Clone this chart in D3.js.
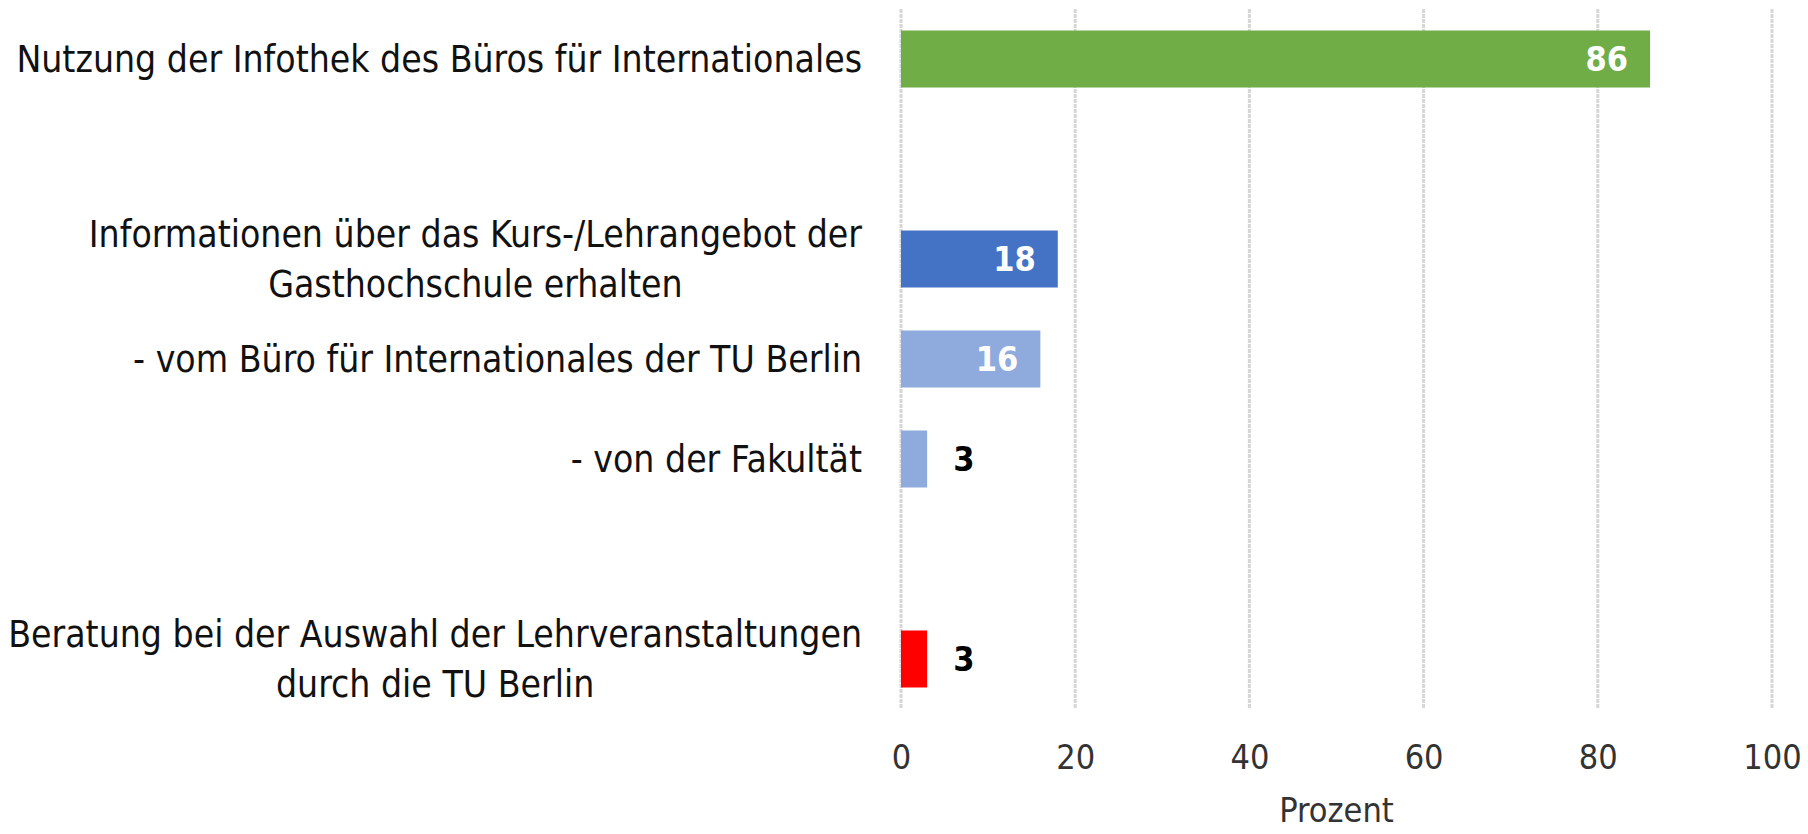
<!DOCTYPE html>
<html>
<head>
<meta charset="utf-8">
<script src="https://cdn.jsdelivr.net/npm/d3@7"></script>
<style>
  body { margin: 0; background: #fff; }
  text { font-family: "Liberation Sans Narrow", "Arial Narrow", "DejaVu Sans Condensed", sans-serif; }
</style>
</head>
<body>
<svg id="chart"></svg>
<script>
// rows from top to bottom, two empty rows keep the gaps
var categories = ["infothek", "gap1", "kurs", "buero", "fakultaet", "gap2", "beratung"];
var labels = [
  ["Nutzung der Infothek des Büros für Internationales"],
  [],
  ["Informationen über das Kurs-/Lehrangebot der", "Gasthochschule erhalten"],
  ["- vom Büro für Internationales der TU Berlin"],
  ["- von der Fakultät"],
  [],
  ["Beratung bei der Auswahl der Lehrveranstaltungen", "durch die TU Berlin"]
];
var values = [86, null, 18, 16, 3, null, 3];
var xTicks = [0, 20, 40, 60, 80, 100];
var xTitle = "Prozent";

var margin = {top: 9, right: 36, bottom: 125, left: 901};
var width = 1808 - margin.left - margin.right;
var height = 834 - margin.top - margin.bottom;

var color = d3.scaleOrdinal()
  .domain(categories)
  .range(["#70ad47", "#fff", "#4472c4", "#8faadc", "#8faadc", "#fff", "#ff0000"]);

var svg = d3.select("#chart")
    .attr("width", 1808)
    .attr("height", 834)
  .append("g")
    .attr("transform", "translate(" + margin.left + "," + margin.top + ")");

var x = d3.scaleLinear().domain([0, 100]).range([0, width]);
var y = d3.scaleBand().domain(categories).range([0, height])
  .paddingInner(0.43).paddingOuter(0.215);

// vertical grid lines
svg.append("g").selectAll("line")
  .data(xTicks)
  .enter().append("line")
    .attr("x1", d => x(d)).attr("x2", d => x(d))
    .attr("y1", 0).attr("y2", height)
    .attr("stroke", "#d6d6d6")
    .attr("stroke-width", 3)
    .attr("stroke-dasharray", "4,1");

// x axis labels
var xAxis = svg.append("g")
  .attr("transform", "translate(0," + height + ")")
  .call(d3.axisBottom(x).tickValues(xTicks).tickSize(0).tickPadding(36));
xAxis.select(".domain").remove();
xAxis.selectAll("text")
  .attr("fill", "#333")
  .style("font-size", "34px");

svg.append("text")
  .attr("x", width / 2)
  .attr("y", height + 113)
  .attr("text-anchor", "middle")
  .attr("fill", "#333")
  .style("font-size", "34px")
  .text(xTitle);

var rows = categories.map((c, i) => ({cat: c, lines: labels[i], value: values[i]}));
var bars = rows.filter(d => d.value !== null);

svg.append("g").selectAll("rect")
  .data(bars)
  .enter().append("rect")
    .attr("x", 0)
    .attr("y", d => y(d.cat))
    .attr("width", d => x(d.value))
    .attr("height", y.bandwidth())
    .attr("fill", d => color(d.cat));

// value labels: inside end when bar is wide, else outside
svg.append("g").selectAll("text")
  .data(bars)
  .enter().append("text")
    .attr("x", d => d.value > 10 ? x(d.value) - 22 : x(d.value) + 26)
    .attr("y", d => y(d.cat) + y.bandwidth() / 2)
    .attr("dy", "0.36em")
    .attr("text-anchor", d => d.value > 10 ? "end" : "start")
    .attr("fill", d => d.value > 10 ? "#fff" : "#000")
    .style("font-size", "34px")
    .style("font-weight", "bold")
    .text(d => d.value);

// category labels, block right aligned, lines centred inside the block
var lineH = 50;
var labelRight = -39;
var groups = svg.append("g").selectAll("g")
  .data(rows.filter(d => d.lines.length))
  .enter().append("g");

groups.each(function(d) {
  var g = d3.select(this);
  var cy = y(d.cat) + y.bandwidth() / 2;
  var texts = g.selectAll("text")
    .data(d.lines)
    .enter().append("text")
      .attr("y", (l, j) => cy + (j - (d.lines.length - 1) / 2) * lineH)
      .attr("dy", "0.36em")
      .attr("text-anchor", "middle")
      .attr("fill", "#111")
      .style("font-size", "37px")
      .text(l => l);
  var maxW = d3.max(texts.nodes(), n => n.getComputedTextLength());
  texts.attr("x", labelRight - maxW / 2);
});
</script>
</body>
</html>
